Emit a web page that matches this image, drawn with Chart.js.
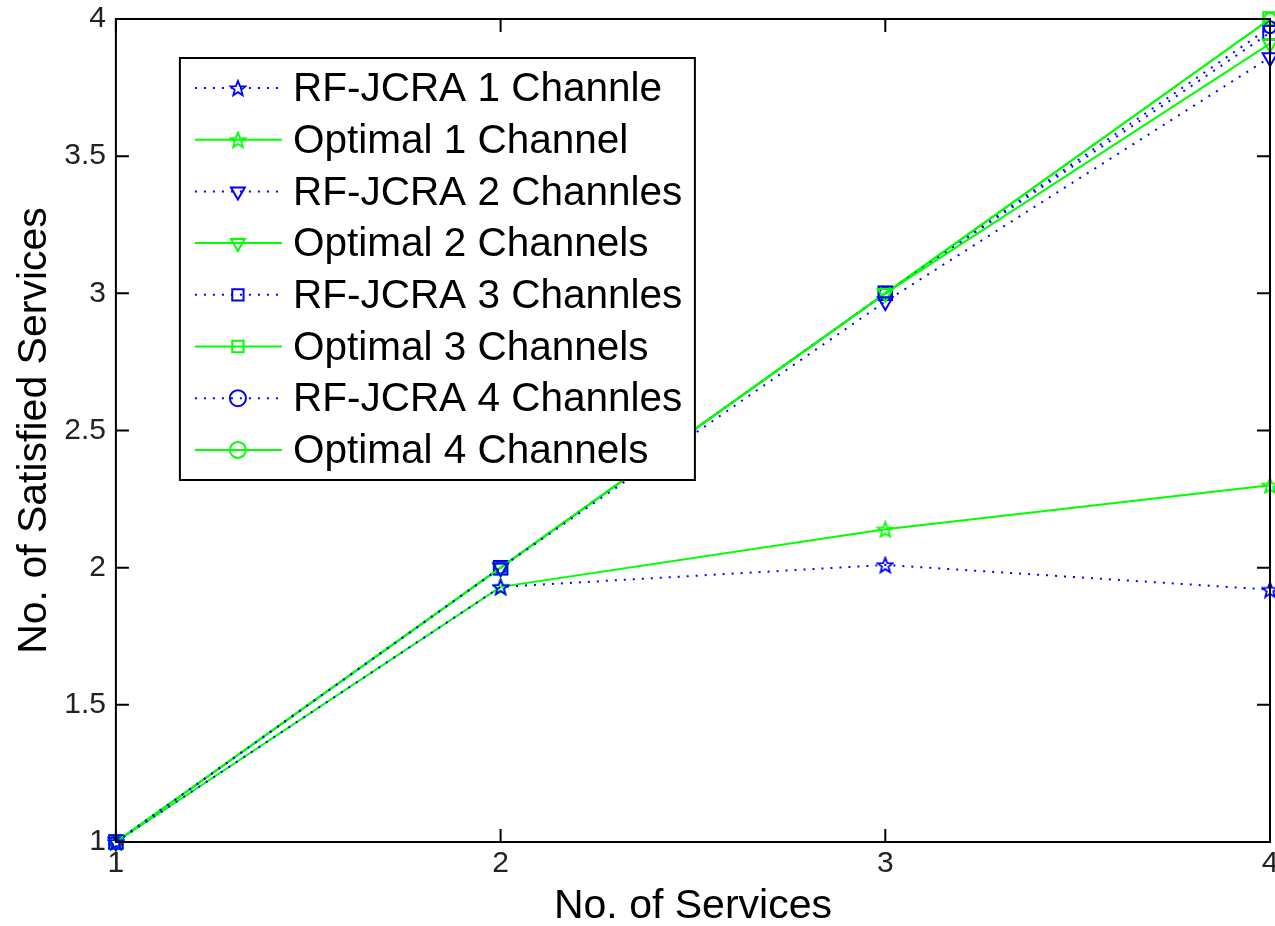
<!DOCTYPE html>
<html>
<head>
<meta charset="utf-8">
<script src="https://cdn.jsdelivr.net/npm/chart.js@4.4.1/dist/chart.umd.min.js"></script>
<style>
  html, body { margin: 0; padding: 0; background: #fff; }
  #wrap { width: 1275px; height: 926px; }
</style>
</head>
<body>
<div id="wrap"><canvas id="myChart" width="1275" height="926"></canvas></div>
<script>
const services = [1, 2, 3, 4];
const rfjcra1 = [1, 1.93, 2.01, 1.92];
const optimal1 = [1, 1.93, 2.14, 2.30];
const rfjcra2 = [1, 2, 2.97, 3.86];
const optimal2 = [1, 2, 3, 3.91];
const rfjcra3 = [1, 2, 3, 3.95];
const optimal3 = [1, 2, 3, 4];
const rfjcra4 = [1, 2, 3, 3.97];
const optimal4 = [1, 2, 3, 4];
const yTicks = [1, 1.5, 2, 2.5, 3, 3.5, 4];

const BLUE = '#0000ff';
const GREEN = '#00ff00';
const FONT = 'Liberation Sans, Arial, Helvetica, sans-serif';

// pentagram marker, outline only (matlab style)
function makeStar(color) {
    const c = document.createElement('canvas');
    c.width = 18; c.height = 18;
    const g = c.getContext('2d');
    g.strokeStyle = color;
    g.lineWidth = 1.8;
    g.beginPath();
    for (let i = 0; i < 10; i++) {
        const r = i % 2 === 0 ? 8 : 3.4;
        const a = -Math.PI / 2 + i * Math.PI / 5;
        const px = 9 + r * Math.cos(a), py = 9.8 + r * Math.sin(a);
        if (i === 0) g.moveTo(px, py); else g.lineTo(px, py);
    }
    g.closePath();
    g.stroke();
    return c;
}

function series(label, data, color, dotted, marker, rot, size) {
    return {
        label: label,
        data: services.map((x, i) => ({ x: x, y: data[i] })),
        borderColor: color,
        backgroundColor: 'rgba(0,0,0,0)',
        borderWidth: 2,
        borderDash: dotted ? [2, 7] : [],
        pointStyle: marker,
        pointRotation: rot || 0,
        pointRadius: size || 8.5,
        pointBorderColor: color,
        pointBackgroundColor: 'rgba(0,0,0,0)',
        pointBorderWidth: 2,
        tension: 0,
        clip: false
    };
}

const datasets = [
    series('RF-JCRA 1 Channle', rfjcra1, BLUE, true, makeStar(BLUE)),
    series('Optimal 1 Channel', optimal1, GREEN, false, makeStar(GREEN)),
    series('RF-JCRA 2 Channles', rfjcra2, BLUE, true, 'triangle', 180),
    series('Optimal 2 Channels', optimal2, GREEN, false, 'triangle', 180),
    series('RF-JCRA 3 Channles', rfjcra3, BLUE, true, 'rect', 0, 9.5),
    series('Optimal 3 Channels', optimal3, GREEN, false, 'rect', 0, 9.5),
    series('RF-JCRA 4 Channles', rfjcra4, BLUE, true, 'circle', 0, 6),
    series('Optimal 4 Channels', optimal4, GREEN, false, 'circle', 0, 6)
];

// let the end tick labels hang over the plot edges like matlab does
const noEdgePadding = {
    id: 'noEdgePadding',
    beforeLayout(chart) {
        Object.values(chart.scales).forEach(s => {
            s.getPadding = () => ({ left: 0, top: 0, right: 0, bottom: 0 });
        });
    }
};

// box with inward ticks on all four sides, plus the legend inside the axes
const boxPlugin = {
    id: 'box',
    afterDatasetsDraw(chart) {
        const ctx = chart.ctx;
        const a = chart.chartArea;
        const xs = chart.scales.x, ys = chart.scales.y;
        const len = 13;
        ctx.save();
        ctx.strokeStyle = '#000';
        ctx.lineWidth = 2;
        ctx.strokeRect(a.left, a.top, a.right - a.left, a.bottom - a.top);
        ctx.beginPath();
        xs.ticks.forEach(t => {
            const px = xs.getPixelForValue(t.value);
            ctx.moveTo(px, a.bottom); ctx.lineTo(px, a.bottom - len);
            ctx.moveTo(px, a.top); ctx.lineTo(px, a.top + len);
        });
        ys.ticks.forEach(t => {
            const py = ys.getPixelForValue(t.value);
            ctx.moveTo(a.left, py); ctx.lineTo(a.left + len, py);
            ctx.moveTo(a.right, py); ctx.lineTo(a.right - len, py);
        });
        ctx.stroke();
        ctx.restore();
    },
    afterDraw(chart) {
        const ctx = chart.ctx;
        const a = chart.chartArea;
        const left = a.left + 64, top = a.top + 39;
        const w = 515, h = 422, rowH = 51.7;
        ctx.save();
        ctx.fillStyle = '#fff';
        ctx.fillRect(left, top, w, h);
        ctx.strokeStyle = '#000';
        ctx.lineWidth = 2;
        ctx.strokeRect(left, top, w, h);
        chart.data.datasets.forEach((ds, i) => {
            const y = top + 30 + i * rowH;
            ctx.save();
            ctx.strokeStyle = ds.borderColor;
            ctx.fillStyle = 'rgba(0,0,0,0)';
            ctx.lineWidth = ds.borderWidth;
            ctx.setLineDash(ds.borderDash);
            ctx.beginPath();
            ctx.moveTo(left + 15, y);
            ctx.lineTo(left + 102, y);
            ctx.stroke();
            ctx.setLineDash([]);
            ctx.lineWidth = ds.pointBorderWidth;
            Chart.helpers.drawPoint(ctx, {
                pointStyle: ds.pointStyle,
                rotation: ds.pointRotation,
                radius: 8,
                borderWidth: ds.pointBorderWidth
            }, left + 58, y);
            ctx.restore();
            ctx.fillStyle = '#000';
            ctx.font = '40.5px ' + FONT;
            ctx.textBaseline = 'middle';
            ctx.textAlign = 'left';
            ctx.fillText(ds.label, left + 113, y + 2);
        });
        ctx.restore();
    }
};

new Chart(document.getElementById('myChart').getContext('2d'), {
    type: 'line',
    data: { datasets: datasets },
    options: {
        responsive: false,
        animation: false,
        layout: { autoPadding: false, padding: { left: 10, right: 5, top: 19, bottom: -1 } },
        plugins: { legend: { display: false }, tooltip: { enabled: false } },
        scales: {
            x: {
                type: 'linear',
                min: 1, max: 4,
                grid: { display: false, drawTicks: false },
                border: { display: false },
                afterBuildTicks: s => { s.ticks = services.map(v => ({ value: v })); },
                ticks: { color: '#222', font: { family: FONT, size: 30, lineHeight: 1 }, padding: 7, callback: v => String(v) },
                title: { display: true, text: 'No. of Services', color: '#000', font: { family: FONT, size: 41, lineHeight: 1 }, padding: { top: 0, bottom: 0 } }
            },
            y: {
                type: 'linear',
                min: 1, max: 4,
                grid: { display: false, drawTicks: false },
                border: { display: false },
                afterBuildTicks: s => { s.ticks = yTicks.map(v => ({ value: v })); },
                ticks: { color: '#222', font: { family: FONT, size: 30, lineHeight: 1 }, padding: 10, callback: v => String(v) },
                title: { display: true, text: 'No. of Satisfied Services', color: '#000', font: { family: FONT, size: 41, lineHeight: 1.2 }, padding: { top: 0, bottom: -5 } }
            }
        }
    },
    plugins: [noEdgePadding, boxPlugin]
});
</script>
</body>
</html>
